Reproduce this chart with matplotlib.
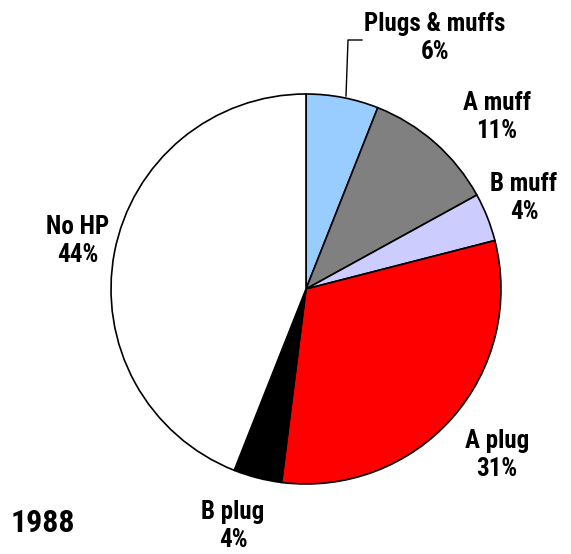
import matplotlib
matplotlib.use("Agg")
import matplotlib.pyplot as plt

# data
categories = ["Plugs & muffs", "A muff", "B muff", "A plug", "B plug", "No HP"]
values = [6, 11, 4, 31, 4, 44]
colors = ["#99CCFF", "#808080", "#CCCCFF", "#FF0000", "#000000", "#FFFFFF"]
year = "1988"

W, H = 571, 554
fig = plt.figure(figsize=(W / 100, H / 100), dpi=100)
ax = fig.add_axes([0, 0, 1, 1])

ax.pie(values, colors=colors, startangle=90, counterclock=False,
       center=(306, H - 289), radius=195,
       wedgeprops=dict(edgecolor="black", linewidth=1.2))
ax.set_xlim(0, W)
ax.set_ylim(0, H)
ax.set_aspect("equal")
ax.axis("off")

fams = ["Liberation Sans Narrow", "Roboto Condensed", "DejaVu Sans Condensed", "DejaVu Sans"]
font = dict(family=fams, fontweight="heavy", fontstretch="condensed",
            fontsize=18, ha="center", va="center", linespacing=1.25)

# label positions in pixels (x, y from top)
label_pos = [(435, 38), (497, 117), (524, 198), (497, 455), (233, 526), (78, 241)]
for cat, val, (x, y) in zip(categories, values, label_pos):
    ax.text(x, H - y, f"{cat}\n{val}%", **font)

# leader line for the small slice
ax.plot([362, 348, 346], [H - 40, H - 40, H - 96], color="black", lw=1)

ax.text(43, H - 523, year, family=fams, fontweight="heavy", fontstretch="condensed",
        fontsize=23, ha="center", va="center")

fig.savefig("out.png", dpi=100)
